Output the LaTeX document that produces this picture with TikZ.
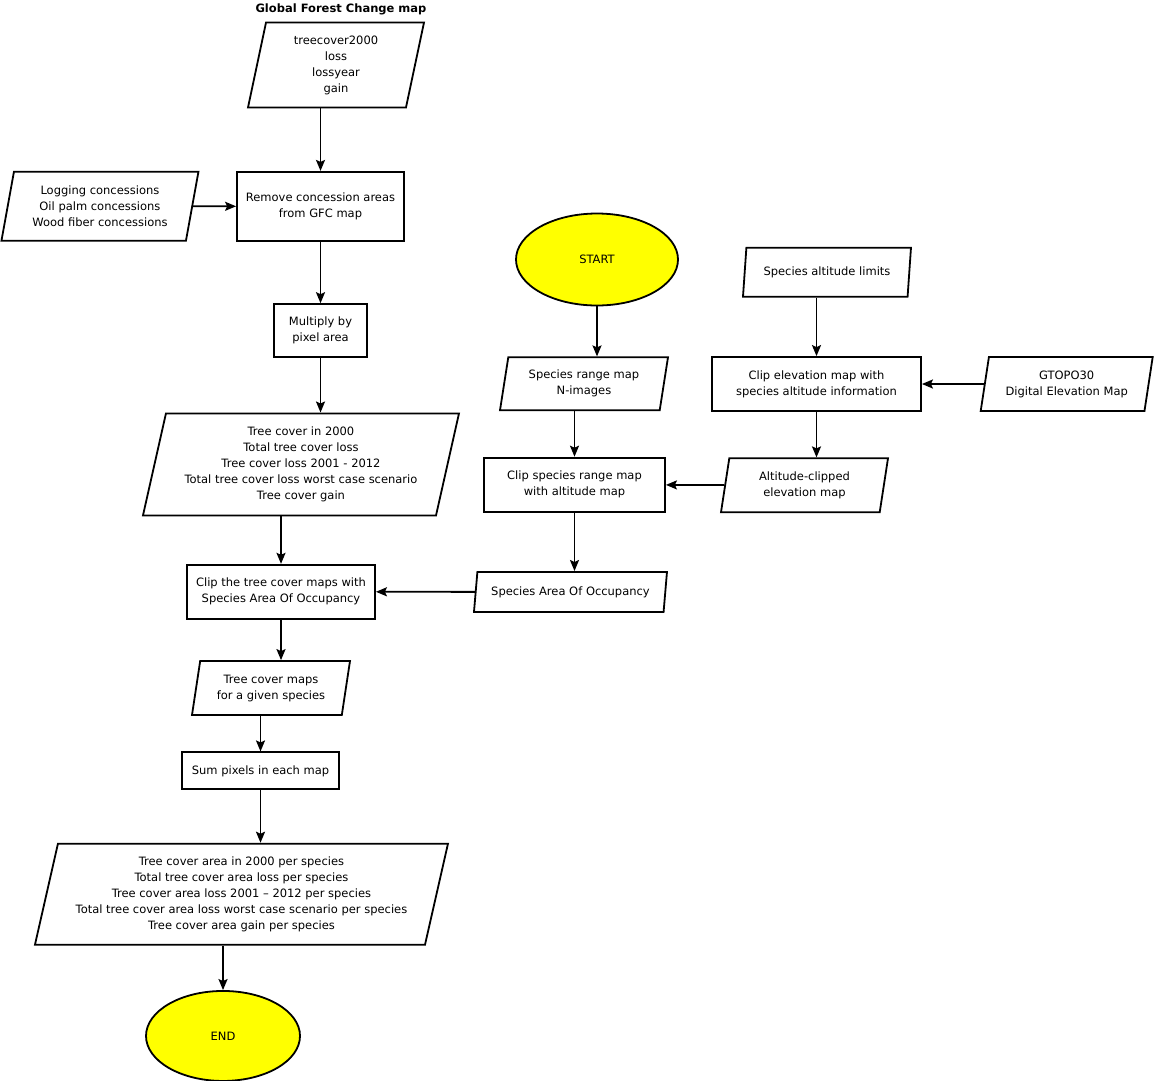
\documentclass[tikz,border=0pt]{standalone}
\usepackage{fontspec}
\setmainfont{DejaVu Sans}
\usepackage{tikz}
\usetikzlibrary{arrows.meta,positioning,shapes.geometric}
\definecolor{startyellow}{RGB}{255,255,0}
\tikzstyle{procbox}=[rectangle,draw=black,line width=1.8pt,align=center,inner sep=0pt,
                  font=\fontsize{11.5}{16}\selectfont]
\tikzstyle{databox}=[trapezium,trapezium left angle=73,trapezium right angle=107,
                  trapezium stretches body=true,draw=black,line width=1.8pt,align=center,inner sep=0pt,
                  font=\fontsize{11.5}{16}\selectfont]
\tikzstyle{termbox}=[ellipse,draw=black,fill=startyellow,line width=1.8pt,inner sep=0pt,
                  font=\fontsize{11.5}{16}\selectfont]
\tikzstyle{arrow}=[-{Stealth[length=11pt,width=9pt,inset=2pt]},line width=1.8pt,draw=black]

\begin{document}
\begin{tikzpicture}[x=1pt,y=-1pt]
      \useasboundingbox (0,0) rectangle (1154,1080);
      % left column
      \node[databox,minimum width=176pt,minimum height=85pt] (gfc) at (336,65)
        {treecover2000\\loss\\lossyear\\gain};
      \node[font=\bfseries\fontsize{11.5}{12}\selectfont,above=3pt of gfc,xshift=5pt] (title)
        {Global Forest Change map};
      \node[procbox,minimum width=167pt,minimum height=69pt,below=62.5pt of gfc,xshift=-15.5pt] (remove)
        {Remove concession areas\\from GFC map};
      \node[databox,minimum width=197pt,minimum height=69pt,left=43pt of remove] (conc)
        {Logging concessions\\Oil palm concessions\\Wood fiber concessions};
      \node[procbox,minimum width=93pt,minimum height=53pt,below=61.5pt of remove] (mult)
        {Multiply by\\pixel area};
      \node[databox,minimum width=316pt,minimum height=102pt,below=54.5pt of mult,xshift=-19.5pt] (tcov)
        {Tree cover in 2000\\Total tree cover loss\\Tree cover loss 2001 - 2012\\Total tree cover loss worst case scenario\\Tree cover gain};
      \node[procbox,minimum width=188pt,minimum height=54pt,below=47.5pt of tcov,xshift=-20pt] (cliptc)
        {Clip the tree cover maps with\\Species Area Of Occupancy};
      \node[databox,minimum width=158pt,minimum height=54pt,below=40.5pt of cliptc,xshift=-10pt] (tcmaps)
        {Tree cover maps\\for a given species};
      \node[procbox,minimum width=157pt,minimum height=37pt,below=35.5pt of tcmaps,xshift=-10.5pt] (sumpx)
        {Sum pixels in each map};
      \node[databox,minimum width=413pt,minimum height=101pt,below=52.5pt of sumpx,xshift=-19pt] (tcarea)
        {Tree cover area in 2000 per species\\Total tree cover area loss per species\\Tree cover area loss 2001 -- 2012 per species\\Total tree cover area loss worst case scenario per species\\Tree cover area gain per species};
      \node[termbox,minimum width=154pt,minimum height=90pt,below=44.5pt of tcarea,xshift=-18.5pt] (end)
        {END};
      % right part
      \node[termbox,minimum width=162pt,minimum height=92pt] (start) at (597,259.5) {START};
      \node[databox,minimum width=168pt,minimum height=53pt,below=50pt of start,xshift=-13pt] (range)
        {Species range map\\N-images};
      \node[procbox,minimum width=181pt,minimum height=54pt,below=45.5pt of range,xshift=-9.5pt] (clipsp)
        {Clip species range map\\with altitude map};
      \node[databox,minimum width=193pt,minimum height=40pt,below=58.5pt of clipsp,xshift=-4pt] (aoo)
        {Species Area Of Occupancy};
      \node[procbox,minimum width=209pt,minimum height=54pt] (clipel) at (816.5,384)
        {Clip elevation map with\\species altitude information};
      \node[databox,minimum width=168pt,minimum height=49pt,above=58.5pt of clipel,xshift=10.5pt] (altlim)
        {Species altitude limits};
      \node[databox,minimum width=172pt,minimum height=54pt,right=62pt of clipel] (gtopo)
        {GTOPO30\\Digital Elevation Map};
      \node[databox,minimum width=167pt,minimum height=54pt,below=45.5pt of clipel,xshift=-12pt] (altclip)
        {Altitude-clipped\\elevation map};
      % connectors
      \draw[arrow] (gfc.south -| remove.north) -- (remove);
      \draw[arrow] (conc) -- (remove);
      \draw[arrow] (remove) -- (mult);
      \draw[arrow] (mult) -- (tcov.north -| mult.south);
      \draw[arrow] (tcov.south -| cliptc.north) -- (cliptc);
      \draw[arrow] (aoo) -- (cliptc);
      \draw[arrow] (cliptc) -- (tcmaps.north -| cliptc.south);
      \draw[arrow] (tcmaps.south -| sumpx.north) -- (sumpx);
      \draw[arrow] (sumpx) -- (tcarea.north -| sumpx.south);
      \draw[arrow] (tcarea.south -| end.north) -- (end);
      \draw[arrow] (start) -- (range.north -| start.south);
      \draw[arrow] (range.south -| clipsp.north) -- (clipsp);
      \draw[arrow] (clipsp) -- (aoo.north -| clipsp.south);
      \draw[arrow] (altlim.south -| clipel.north) -- (clipel);
      \draw[arrow] (gtopo) -- (clipel);
      \draw[arrow] (clipel) -- (altclip.north -| clipel.south);
      \draw[arrow] (altclip) -- (clipsp);
    \end{tikzpicture}
\end{document}
